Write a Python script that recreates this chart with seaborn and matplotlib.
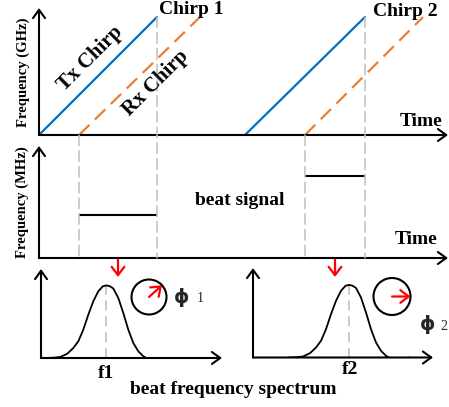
import numpy as np
import pandas as pd
import matplotlib.pyplot as plt
from matplotlib.patches import Circle, ConnectionPatch
import seaborn as sns

# chirp timing, time axis starts at 0
tx_start = [0.0, 20.6]
tx_end = [11.8, 32.6]
rx_start = [4.0, 26.6]
rx_end = [16.1, 38.4]
f_top = 11.8                 # top of the frequency sweep
beat_freq = [4.3, 8.2]       # beat signal level for chirp 1 and 2
chirp_names = ["Chirp 1", "Chirp 2"]

# beat spectrum shape (offset from peak, height)
spec_dx = [-60, -53, -46, -39, -33, -28, -23, -18, -13, -8, -3.5, 0,
           3.5, 7, 12, 17, 22, 27, 32, 37, 42, 48.7, 55, 60]
spec_h = [0, 0.3, 1, 4.3, 10, 16.7, 28.3, 43.3, 56.7, 66.7, 71.7, 72.6,
          71.8, 69.5, 60, 45, 28.3, 15, 6.7, 1.7, -1, -2.7, -1.7, 0]
spec_peak = [65.3, 96]
spec_names = ["f1", "f2"]

# phase of each beat tone
phase_deg = [42, 0]
phase_names = ["1", "2"]
circle_x = [108, 139]
circle_y = [61, 61]
circle_r = [17.5, 18.5]

BLUE = "#0070C0"
ORANGE = "#ED7D31"
GREY = "#BFBFBF"
RED = "#FF0000"

sns.set_theme(style="white")
plt.rcParams["font.family"] = ["Liberation Serif", "DejaVu Sans"]

W, H = 449, 407
fig = plt.figure(figsize=(W / 100, H / 100), dpi=100)


def add_ax(left, top, right, bottom):
    ax = fig.add_axes([left / W, 1 - bottom / H, (right - left) / W, (bottom - top) / H])
    ax.axis("off")
    return ax


def fig_text(x, y, s, **kw):
    fig.text(x / W, 1 - y / H, s, ha="center", va="center", **kw)


def axis_arrows(ax):
    style = dict(arrowstyle="->,head_length=0.5,head_width=0.36", lw=1.5,
                 color="black", shrinkA=0, shrinkB=0)
    ax.annotate("", xy=(1, 0), xytext=(0, 0), xycoords="axes fraction",
                arrowprops=style, annotation_clip=False)
    ax.annotate("", xy=(0, 1), xytext=(0, 0), xycoords="axes fraction",
                arrowprops=style, annotation_clip=False)


red_arrow = dict(arrowstyle="->,head_length=0.5,head_width=0.38",
                 lw=1.6, color=RED, shrinkA=0, shrinkB=0)

ax_top = add_ax(39, 8, 448, 135)
ax_top.set_xlim(0, 40.9)
ax_top.set_ylim(0, 12.7)

ax_mid = add_ax(39, 146, 448, 258)
ax_mid.set_xlim(0, 40.9)
ax_mid.set_ylim(0, 11.2)

ax_s1 = add_ax(41, 269, 222, 358)
ax_s1.set_xlim(0, 181)
ax_s1.set_ylim(0, 89)

ax_s2 = add_ax(253, 268, 433, 357.5)
ax_s2.set_xlim(0, 180)
ax_s2.set_ylim(0, 89.5)

# grey guide lines from the chirp plot down to the beat plot
guide_dash = (0, (7, 3.3))
for i in range(2):
    for t, y0 in [(rx_start[i], 0), (tx_end[i], f_top)]:
        con = ConnectionPatch(xyA=(t, y0), coordsA=ax_top.transData,
                              xyB=(t, 0), coordsB=ax_mid.transData,
                              color=GREY, lw=1.1, linestyle=guide_dash, zorder=1)
        fig.add_artist(con)

# Tx / Rx chirps
for i in range(2):
    sns.lineplot(x=[tx_start[i], tx_end[i]], y=[0, f_top], ax=ax_top,
                 color=BLUE, lw=1.6, sort=False, estimator=None)
    sns.lineplot(x=[rx_start[i], rx_end[i]], y=[0, f_top], ax=ax_top,
                 color=ORANGE, lw=1.6, sort=False, estimator=None,
                 linestyle=(0, (6.5, 3.5)))
axis_arrows(ax_top)

# beat signal
ax_mid.hlines(beat_freq, rx_start, tx_end, color="black", lw=1.5, zorder=3)
axis_arrows(ax_mid)

# red arrows from beat signal to spectrum
for i in range(2):
    xc = (rx_start[i] + tx_end[i]) / 2
    ax_mid.annotate("", xy=(xc, -1.9), xytext=(xc, -0.15),
                    arrowprops=red_arrow, annotation_clip=False)

# spectra with phase circles
for i, ax in enumerate([ax_s1, ax_s2]):
    xs = np.array(spec_dx) + spec_peak[i]
    sns.lineplot(x=xs, y=spec_h, ax=ax, color="black", lw=1.3,
                 sort=False, estimator=None)
    ax.vlines(spec_peak[i], 0, max(spec_h), color=GREY, lw=1.2,
              linestyle=(0, (6, 3.5)), zorder=1)
    axis_arrows(ax)
    c = Circle((circle_x[i], circle_y[i]), circle_r[i], fill=False,
               ec="black", lw=1.5)
    ax.add_patch(c)
    a = np.deg2rad(phase_deg[i])
    ax.annotate("", xy=(circle_x[i] + circle_r[i] * np.cos(a),
                        circle_y[i] + circle_r[i] * np.sin(a)),
                xytext=(circle_x[i], circle_y[i]), arrowprops=red_arrow)

# texts
bold = dict(fontweight="bold", color="black")
fig_text(191, 10, chirp_names[0], fontsize=14, **bold)
fig_text(405, 11, chirp_names[1], fontsize=14, **bold)
fig_text(421, 121, "Time", fontsize=14, **bold)
fig_text(416, 240, "Time", fontsize=14, **bold)
fig_text(23, 72, "Frequency (GHz)", fontsize=10.5, rotation=90, **bold)
fig_text(22, 202, "Frequency (MHz)", fontsize=10.5, rotation=90, **bold)
fig_text(90, 59, "Tx Chirp", fontsize=15, rotation=45, rotation_mode="anchor", **bold)
fig_text(156, 83, "Rx Chirp", fontsize=15, rotation=45, rotation_mode="anchor", **bold)
fig_text(240, 201, "beat signal", fontsize=14, **bold)
fig_text(106, 373, spec_names[0], fontsize=14, **bold)
fig_text(350, 370, spec_names[1], fontsize=14, **bold)
fig_text(233, 389, "beat frequency spectrum", fontsize=14, **bold)

fig_text(181.5, 297.5, "\u03d5", fontsize=14, fontweight="bold", family="DejaVu Sans")
fig_text(200, 299, phase_names[0], fontsize=10)
fig_text(427.5, 324, "\u03d5", fontsize=14, fontweight="bold", family="DejaVu Sans")
fig_text(444, 326, phase_names[1], fontsize=10)

fig.savefig("out.png", dpi=100)
